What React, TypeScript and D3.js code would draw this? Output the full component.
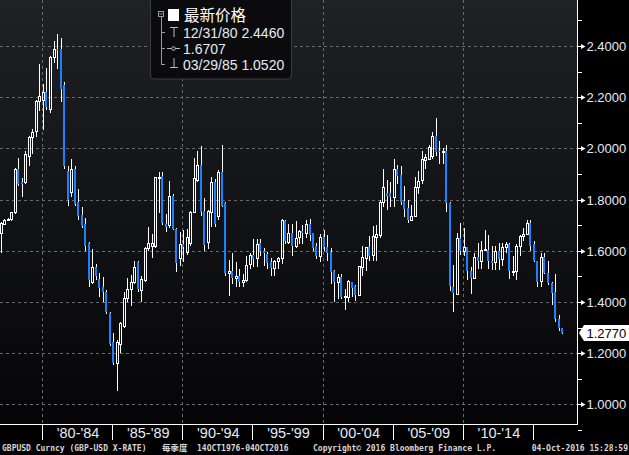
import React from 'react';
import * as d3 from 'd3';

const W = 629;
const H = 455;

// Quarterly GBPUSD candles, Q4 1976 .. Q4 2016 (plotted at quarter end)
const firstQuarterEnd = new Date(1977, 0, 1);

const opens = [
  1.670,
  1.705, 1.721, 1.723, 1.752,
  1.920, 1.869, 1.869, 1.970,
  2.045, 2.068, 2.185, 2.190,
  2.220, 2.155, 2.357, 2.390,
  2.388, 2.248, 1.910, 1.830,
  1.920, 1.790, 1.740, 1.705,
  1.630, 1.478, 1.537, 1.490,
  1.458, 1.440, 1.357, 1.244,
  1.162, 1.236, 1.306, 1.415,
  1.450, 1.478, 1.556, 1.447,
  1.486, 1.610, 1.620, 1.620,
  1.885, 1.892, 1.705, 1.700,
  1.814, 1.685, 1.572, 1.626,
  1.595, 1.630, 1.752, 1.877,
  1.935, 1.755, 1.634, 1.752,
  1.869, 1.736, 1.908, 1.787,
  1.513, 1.520, 1.494, 1.501,
  1.478, 1.486, 1.548, 1.584,
  1.572, 1.630, 1.600, 1.587,
  1.556, 1.533, 1.560, 1.572,
  1.716, 1.634, 1.670, 1.618,
  1.654, 1.677, 1.670, 1.705,
  1.670, 1.620, 1.580, 1.654,
  1.615, 1.595, 1.520, 1.478,
  1.497, 1.418, 1.420, 1.480,
  1.462, 1.427, 1.536, 1.572,
  1.614, 1.584, 1.655, 1.662,
  1.790, 1.826, 1.826, 1.810,
  1.920, 1.895, 1.795, 1.767,
  1.720, 1.735, 1.850, 1.875,
  1.955, 1.960, 1.970, 2.050,
  1.990, 1.985, 1.990, 1.787,
  1.460, 1.433, 1.650, 1.600,
  1.615, 1.520, 1.495, 1.575,
  1.560, 1.605, 1.605, 1.560,
  1.555, 1.600, 1.568, 1.615,
  1.625, 1.520, 1.520, 1.620,
  1.656, 1.665, 1.710, 1.625,
  1.560, 1.483, 1.575, 1.515,
  1.475, 1.440, 1.335, 1.298,
];

const closes = [
  1.709,
  1.722, 1.723, 1.750, 1.918,
  1.861, 1.861, 1.978, 2.045,
  2.064, 2.185, 2.204, 2.220,
  2.162, 2.357, 2.390, 2.385,
  2.232, 1.931, 1.800, 1.920,
  1.783, 1.736, 1.697, 1.619,
  1.486, 1.537, 1.500, 1.455,
  1.440, 1.360, 1.236, 1.162,
  1.244, 1.318, 1.415, 1.450,
  1.478, 1.537, 1.450, 1.490,
  1.610, 1.630, 1.630, 1.888,
  1.890, 1.709, 1.693, 1.814,
  1.685, 1.552, 1.626, 1.614,
  1.654, 1.752, 1.885, 1.935,
  1.752, 1.622, 1.755, 1.869,
  1.705, 1.908, 1.775, 1.513,
  1.520, 1.494, 1.501, 1.478,
  1.484, 1.545, 1.584, 1.568,
  1.626, 1.600, 1.592, 1.552,
  1.533, 1.560, 1.572, 1.720,
  1.638, 1.670, 1.618, 1.650,
  1.677, 1.670, 1.705, 1.662,
  1.610, 1.580, 1.654, 1.615,
  1.592, 1.517, 1.478, 1.497,
  1.420, 1.424, 1.482, 1.456,
  1.427, 1.540, 1.575, 1.614,
  1.580, 1.658, 1.665, 1.790,
  1.850, 1.815, 1.810, 1.920,
  1.893, 1.790, 1.765, 1.720,
  1.735, 1.850, 1.873, 1.958,
  1.968, 2.006, 2.050, 1.987,
  1.985, 1.990, 1.787, 1.463,
  1.435, 1.650, 1.600, 1.615,
  1.520, 1.495, 1.575, 1.560,
  1.605, 1.607, 1.560, 1.554,
  1.600, 1.568, 1.615, 1.625,
  1.520, 1.521, 1.620, 1.656,
  1.666, 1.710, 1.620, 1.560,
  1.480, 1.575, 1.513, 1.474,
  1.437, 1.333, 1.297, 1.277,
];

const highs = [
  1.712,
  1.726, 1.727, 1.752, 1.925,
  1.963, 1.884, 1.990, 2.050,
  2.076, 2.190, 2.330, 2.250,
  2.315, 2.360, 2.420, 2.446,
  2.430, 2.260, 1.930, 1.960,
  1.930, 1.840, 1.770, 1.730,
  1.635, 1.607, 1.548, 1.513,
  1.498, 1.445, 1.360, 1.279,
  1.250, 1.320, 1.440, 1.494,
  1.506, 1.560, 1.560, 1.500,
  1.615, 1.693, 1.665, 1.890,
  1.907, 1.907, 1.744, 1.873,
  1.820, 1.690, 1.673, 1.680,
  1.684, 1.757, 1.962, 1.990,
  2.010, 1.806, 1.760, 1.890,
  1.880, 1.916, 2.013, 1.790,
  1.564, 1.590, 1.555, 1.530,
  1.510, 1.580, 1.590, 1.646,
  1.646, 1.646, 1.610, 1.595,
  1.570, 1.565, 1.575, 1.724,
  1.720, 1.705, 1.705, 1.716,
  1.680, 1.700, 1.720, 1.724,
  1.670, 1.630, 1.665, 1.680,
  1.662, 1.610, 1.525, 1.510,
  1.510, 1.450, 1.485, 1.480,
  1.465, 1.540, 1.620, 1.614,
  1.658, 1.697, 1.700, 1.800,
  1.920, 1.877, 1.870, 1.960,
  1.935, 1.930, 1.853, 1.800,
  1.780, 1.890, 1.910, 1.990,
  1.980, 2.014, 2.065, 2.118,
  2.030, 2.000, 2.015, 1.790,
  1.545, 1.670, 1.710, 1.690,
  1.615, 1.535, 1.590, 1.630,
  1.640, 1.680, 1.660, 1.620,
  1.620, 1.630, 1.630, 1.635,
  1.630, 1.580, 1.625, 1.660,
  1.690, 1.720, 1.720, 1.640,
  1.560, 1.590, 1.590, 1.560,
  1.480, 1.510, 1.350, 1.300,
];

const lows = [
  1.592,
  1.700, 1.715, 1.718, 1.745,
  1.855, 1.810, 1.860, 1.930,
  1.980, 2.045, 2.146, 2.070,
  2.150, 2.140, 2.334, 2.310,
  2.180, 1.920, 1.775, 1.810,
  1.775, 1.720, 1.690, 1.600,
  1.459, 1.470, 1.486, 1.420,
  1.400, 1.355, 1.228, 1.155,
  1.052, 1.200, 1.300, 1.400,
  1.384, 1.470, 1.440, 1.400,
  1.480, 1.600, 1.570, 1.610,
  1.748, 1.700, 1.673, 1.690,
  1.680, 1.517, 1.540, 1.556,
  1.585, 1.620, 1.750, 1.870,
  1.736, 1.600, 1.607, 1.693,
  1.693, 1.720, 1.770, 1.500,
  1.423, 1.470, 1.460, 1.460,
  1.460, 1.478, 1.530, 1.535,
  1.535, 1.580, 1.540, 1.527,
  1.500, 1.500, 1.530, 1.550,
  1.625, 1.627, 1.580, 1.610,
  1.627, 1.627, 1.650, 1.640,
  1.600, 1.567, 1.556, 1.600,
  1.560, 1.470, 1.400, 1.410,
  1.410, 1.370, 1.400, 1.420,
  1.405, 1.430, 1.500, 1.520,
  1.560, 1.560, 1.560, 1.650,
  1.770, 1.760, 1.770, 1.770,
  1.860, 1.780, 1.733, 1.710,
  1.715, 1.735, 1.820, 1.860,
  1.920, 1.960, 1.960, 1.970,
  1.940, 1.940, 1.750, 1.443,
  1.360, 1.433, 1.585, 1.580,
  1.486, 1.430, 1.490, 1.530,
  1.530, 1.600, 1.530, 1.525,
  1.525, 1.525, 1.540, 1.590,
  1.490, 1.500, 1.486, 1.580,
  1.640, 1.660, 1.600, 1.555,
  1.460, 1.460, 1.510, 1.465,
  1.390, 1.320, 1.287, 1.276,
];

const periodStartYears = [1980, 1985, 1990, 1995, 2000, 2005, 2010, 2015];
const periodLabels = ["'80-'84", "'85-'89", "'90-'94", "'95-'99", "'00-'04", "'05-'09", "'10-'14"];
const gridYears = [1980, 1990, 2000, 2010];
const majorTicks = [2.4, 2.2, 2.0, 1.8, 1.6, 1.4, 1.2, 1.0];
const minorTicks = [2.5, 2.3, 2.1, 1.9, 1.7, 1.5, 1.3, 1.1, 0.9];

const legendTitle = '最新价格';
const legendHigh = '12/31/80 2.4460';
const legendAvg = '1.6707';
const legendLow = '03/29/85 1.0520';
const lastPrice = 1.277;

const footerLeft = 'GBPUSD Curncy (GBP-USD X-RATE)';
const footerFreq = '每季度';
const footerRange = '14OCT1976-04OCT2016';
const footerCopy = 'Copyright\u00A9 2016 Bloomberg Finance L.P.';
const footerStamp = '04-Oct-2016 15:28:59';

const PLOT_R = 577;
const PLOT_B = 424;
const BLUE = '#1b82ff';
const TEXT = '#e4ebf3';
const SANS = '"Liberation Sans", Arial, sans-serif';
const MONO = '"DejaVu Sans Mono", monospace';
const CJK = '"Noto Sans CJK SC", sans-serif';

export default function App() {
  const x = d3.scaleTime()
    .domain([new Date(1980, 0, 1), new Date(2015, 0, 1)])
    .range([43, 534]);
  const y = d3.scaleLinear().domain([1.0, 2.4]).range([404.4, 46]);
  const fmt = d3.format('.4f');

  const candles = opens.map((o, i) => {
    const d = d3.timeMonth.offset(firstQuarterEnd, 3 * i);
    return { d, o, h: highs[i], l: lows[i], c: closes[i] };
  });

  return (
    <svg width={W} height={H} style={{ position: 'absolute', left: 0, top: 0, background: '#000' }}>
      <defs>
        <linearGradient id="bg" x1="0" y1="0" x2="0" y2={PLOT_B} gradientUnits="userSpaceOnUse">
          <stop offset="0" stopColor="#202125" />
          <stop offset="1" stopColor="#050507" />
        </linearGradient>
      </defs>
      <rect x={0} y={0} width={W} height={H} fill="#000" />
      <rect x={0} y={0} width={PLOT_R} height={PLOT_B} fill="url(#bg)" />

      {/* grid */}
      {majorTicks.map((t) => (
        <line key={'hg' + t} x1={0} x2={PLOT_R} y1={Math.round(y(t)) + 0.5} y2={Math.round(y(t)) + 0.5}
          stroke="#6a6a6e" strokeWidth={1} strokeDasharray="3,3" />
      ))}
      {gridYears.map((yr) => {
        const gx = Math.round(x(new Date(yr, 0, 1))) - 0.5;
        return (
          <line key={'vg' + yr} x1={gx} x2={gx} y1={0} y2={PLOT_B}
            stroke="#6a6a6e" strokeWidth={1} strokeDasharray="3,3" />
        );
      })}

      {/* candles */}
      {candles.map((k, i) => {
        const cx = Math.round(x(k.d));
        const up = k.c >= k.o;
        const yTop = Math.round(y(Math.max(k.o, k.c)));
        const yBot = Math.round(y(Math.min(k.o, k.c)));
        const yH = Math.round(y(k.h));
        const yL = Math.round(y(k.l));
        const wx = cx + 0.5;
        if (up) {
          const hgt = Math.max(yBot - yTop, 1);
          return (
            <g key={i}>
              {yH < yTop && <line x1={wx} x2={wx} y1={yH} y2={yTop} stroke="#fff" strokeWidth={1} />}
              {yL > yTop + hgt && <line x1={wx} x2={wx} y1={yTop + hgt} y2={yL} stroke="#fff" strokeWidth={1} />}
              <rect x={cx - 0.5} y={yTop + 0.5} width={2} height={hgt} fill="none" stroke="#fff" strokeWidth={1} />
            </g>
          );
        }
        const hgt = Math.max(yBot - yTop, 1);
        return (
          <g key={i}>
            <line x1={wx} x2={wx} y1={yH} y2={yL} stroke="#fff" strokeWidth={1} />
            <rect x={cx - 1} y={yTop} width={2} height={hgt} fill={BLUE} />
          </g>
        );
      })}

      {/* axis frame */}
      <line x1={PLOT_R + 0.5} x2={PLOT_R + 0.5} y1={0} y2={PLOT_B + 1} stroke="#fff" strokeWidth={1} />
      <line x1={0} x2={PLOT_R + 1} y1={PLOT_B + 0.5} y2={PLOT_B + 0.5} stroke="#fff" strokeWidth={1} />

      {/* y axis ticks */}
      {minorTicks.map((t) => (
        <line key={'mt' + t} x1={PLOT_R + 1} x2={PLOT_R + 5} y1={Math.round(y(t)) + 0.5} y2={Math.round(y(t)) + 0.5}
          stroke="#fff" strokeWidth={1} />
      ))}
      {majorTicks.map((t) => {
        const ty = Math.round(y(t)) + 0.5;
        return (
          <g key={'Mt' + t}>
            <line x1={PLOT_R + 1} x2={PLOT_R + 5} y1={ty} y2={ty} stroke="#fff" strokeWidth={1} />
            <path d={`M${PLOT_R + 4},${ty - 2.5}L${PLOT_R + 8.5},${ty}L${PLOT_R + 4},${ty + 2.5}Z`} fill="#fff" />
            <text x={PLOT_R + 9.5} y={ty} dy="0.36em" fill={TEXT} fontFamily={SANS} fontSize={13}>{fmt(t)}</text>
          </g>
        );
      })}

      {/* last price tag */}
      {(() => {
        const ly = Math.round(y(lastPrice));
        return (
          <g>
            <path d={`M${PLOT_R + 2},${ly}L${PLOT_R + 7},${ly - 8}L${W},${ly - 8}L${W},${ly + 8}L${PLOT_R + 7},${ly + 8}Z`} fill="#fff" />
            <text x={PLOT_R + 9.5} y={ly} dy="0.36em" fill="#000" fontFamily={SANS} fontSize={13}>{fmt(lastPrice)}</text>
          </g>
        );
      })()}

      {/* x axis period bands */}
      {periodStartYears.map((yr) => {
        const sx = Math.round(x(new Date(yr, 0, 1))) - 0.5;
        return <line key={'sep' + yr} x1={sx} x2={sx} y1={PLOT_B} y2={440} stroke="#fff" strokeWidth={1} />;
      })}
      {periodLabels.map((lab, i) => {
        const a = x(new Date(periodStartYears[i], 0, 1));
        const b = x(new Date(periodStartYears[i + 1], 0, 1));
        return (
          <text key={lab} x={(a + b) / 2} y={438} textAnchor="middle" fill={TEXT} fontFamily={SANS} fontSize={14.5}>{lab}</text>
        );
      })}

      {/* legend */}
      <rect x={150.5} y={-6} width={141} height={85} rx={4} fill="#0b0b0d" stroke="#3c3c40" strokeWidth={1} />
      <rect x={158.5} y={11.5} width={5} height={5} fill="none" stroke="#9a9a9a" strokeWidth={1} />
      <line x1={159.5} x2={162.5} y1={14} y2={14} stroke="#9a9a9a" strokeWidth={1} />
      <rect x={168} y={9} width={11} height={12} fill="#fff" />
      <text x={184} y={21} fill="#fff" fontFamily={CJK} fontSize={15.5}>{legendTitle}</text>
      <line x1={161.5} x2={161.5} y1={17} y2={64.5} stroke="#9a9a9a" strokeWidth={1} />
      <line x1={161} x2={165} y1={32.5} y2={32.5} stroke="#9a9a9a" strokeWidth={1} />
      <line x1={161} x2={165} y1={48.5} y2={48.5} stroke="#9a9a9a" strokeWidth={1} />
      <line x1={161} x2={165} y1={64.5} y2={64.5} stroke="#9a9a9a" strokeWidth={1} />
      <line x1={170} x2={178} y1={27.5} y2={27.5} stroke="#bbb" strokeWidth={1} />
      <line x1={174} x2={174} y1={27.5} y2={37} stroke="#bbb" strokeWidth={1} />
      <line x1={167} x2={180} y1={48.5} y2={48.5} stroke="#bbb" strokeWidth={1} />
      <circle cx={173.5} cy={48.5} r={1.8} fill="#0b0b0d" stroke="#bbb" strokeWidth={1} />
      <line x1={174} x2={174} y1={58} y2={68} stroke="#bbb" strokeWidth={1} />
      <line x1={170} x2={178} y1={67.5} y2={67.5} stroke="#bbb" strokeWidth={1} />
      <text x={183} y={38} fill={TEXT} fontFamily={SANS} fontSize={14}>{legendHigh}</text>
      <text x={183} y={54} fill={TEXT} fontFamily={SANS} fontSize={14}>{legendAvg}</text>
      <text x={183} y={70} fill={TEXT} fontFamily={SANS} fontSize={14}>{legendLow}</text>

      {/* footer */}
      <text x={2} y={451} fill="#d6d6d6" fontFamily={MONO} fontSize={8} fontWeight="bold">{footerLeft}</text>
      <text x={162} y={451} fill="#d6d6d6" fontFamily={CJK} fontSize={8.5} fontWeight="bold">{footerFreq}</text>
      <text x={197} y={451} fill="#d6d6d6" fontFamily={MONO} fontSize={8} fontWeight="bold">{footerRange}</text>
      <text x={313} y={451} fill="#d6d6d6" fontFamily={MONO} fontSize={8} fontWeight="bold">{footerCopy}</text>
      <text x={628} y={451} textAnchor="end" fill="#d6d6d6" fontFamily={MONO} fontSize={8} fontWeight="bold">{footerStamp}</text>
    </svg>
  );
}
